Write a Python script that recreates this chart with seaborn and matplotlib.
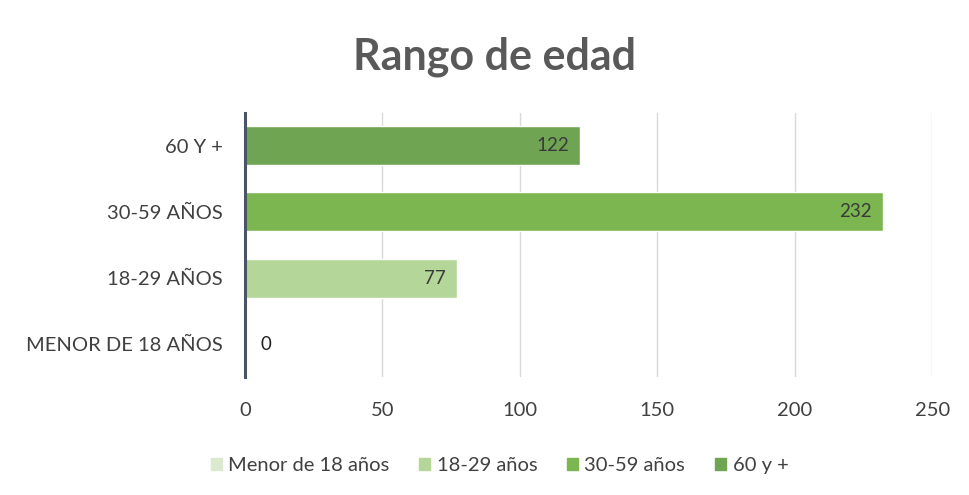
import matplotlib
matplotlib.use("Agg")
import matplotlib.pyplot as plt
import seaborn as sns
import pandas as pd
from matplotlib.patches import Patch

# ================================
# DATA
# ================================
categories = ["60 Y +", "30-59 AÑOS", "18-29 AÑOS", "MENOR DE 18 AÑOS"]
values = [122, 232, 77, 0]
legend_labels = ["Menor de 18 años", "18-29 años", "30-59 años", "60 y +"]
bar_colors = ["#6fa552", "#7bb650", "#b4d698", "#dbe9cf"]
x_ticks = [0, 50, 100, 150, 200, 250]

df = pd.DataFrame({"rango": categories, "cantidad": values})

# ================================
# STYLE
# ================================
sns.set_style("white")
plt.rcParams["font.family"] = ["Lato", "DejaVu Sans"]

fig = plt.figure(figsize=(9.7, 4.95), dpi=100)
ax = fig.add_axes([0.2526, 0.238, 0.7084, 0.534])

sns.barplot(data=df, y="rango", x="cantidad", hue="rango",
            palette=bar_colors, order=categories, hue_order=categories,
            width=0.59, saturation=1, legend=False, ax=ax, orient="h")

# value labels
for i, v in enumerate(values):
    if v > 0:
        ax.annotate(str(v), (v, i), xytext=(-8, 0), textcoords="offset points",
                    ha="right", va="center", fontsize=13.5, color="#3a3a3a")
    else:
        ax.annotate(str(v), (v, i), xytext=(11, 0), textcoords="offset points",
                    ha="left", va="center", fontsize=13.5, color="#222222")

ax.set_xlim(0, 250)
ax.set_xticks(x_ticks)
ax.set_ylim(3.5, -0.5)
ax.xaxis.grid(True, color="#d9d9d9", linewidth=1)
ax.set_axisbelow(True)
ax.set_xlabel("")
ax.set_ylabel("")
ax.tick_params(axis="both", length=0, labelsize=14.5, colors="#404040", pad=16)
ax.tick_params(axis="x", pad=18)

for side in ["top", "right", "bottom"]:
    ax.spines[side].set_visible(False)
ax.spines["left"].set_color("#4a5468")
ax.spines["left"].set_linewidth(2.2)

fig.text(0.51, 0.885, "Rango de edad", ha="center", va="center",
         fontsize=31, fontweight="bold", color="#595959")

handles = [Patch(color=c) for c in bar_colors[::-1]]
fig.legend(handles, legend_labels, loc="center", bbox_to_anchor=(0.515, 0.06),
           ncol=4, frameon=False, fontsize=14.5, handlelength=0.55, handleheight=0.55,
           handletextpad=0.3, columnspacing=1.5, labelcolor="#404040")

fig.savefig("out.png", dpi=100, facecolor="white")
